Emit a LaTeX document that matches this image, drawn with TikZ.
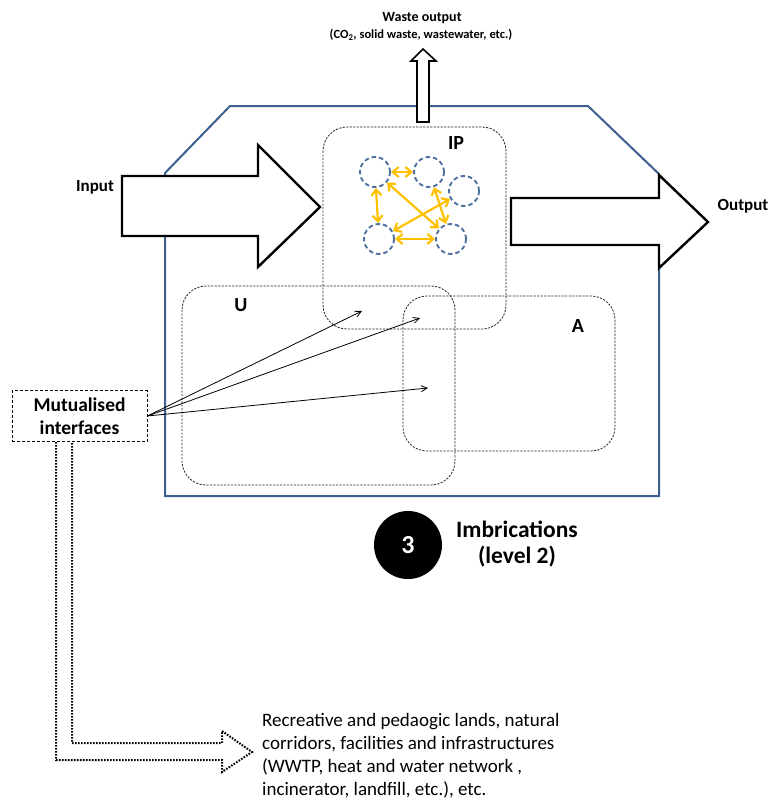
\documentclass[tikz,border=0pt]{standalone}
\usepackage{fontspec}
\setmainfont{Carlito}
\usetikzlibrary{arrows.meta}
\definecolor{frameblue}{HTML}{3B6090}
\definecolor{circblue}{HTML}{4F71A0}
\definecolor{gold}{HTML}{FFC000}
\begin{document}
\begin{tikzpicture}[x=1pt,y=-1pt,
  frame/.style={draw=frameblue, line width=2pt, line join=miter},
  grp/.style={draw=black!85, dash pattern=on 2.2pt off 1.3pt, line width=0.8pt, rounded corners=24pt},
  bigarrow/.style={draw, fill=white, line width=2.4pt, line join=miter},
  agent/.style={circle, draw=circblue, dash pattern=on 4.5pt off 3pt, line width=1.9pt, minimum size=30pt, inner sep=0pt},
  link/.style={draw=gold, line width=2.2pt, {Straight Barb[length=6pt,width=10pt]}-{Straight Barb[length=6pt,width=10pt]}},
  thinarrow/.style={draw, line width=0.8pt, -{Straight Barb[length=6pt,width=6pt]}},
  lbl/.style={font=\bfseries\fontsize{17}{19}\selectfont, inner sep=0pt},
  biglbl/.style={font=\bfseries\fontsize{20}{22}\selectfont, inner sep=0pt}
]
\useasboundingbox (0,0) rectangle (772,803);

% outer frame
\draw[frame] (230,106) -- (588,106) -- (659,174) -- (659,496) -- (165,496) -- (165,173) -- cycle;

% groups
\draw[grp] (323,127) rectangle (506,329);
\draw[grp] (182,286) rectangle (455,485);
\draw[grp] (403,296) rectangle (615,451);

% labels of groups
\node[biglbl] (ip) at (456,143) {IP};
\node[biglbl] (u) at (241,305) {U};
\node[biglbl] (a) at (578,326) {A};

% agents
\node[agent] (c1) at (375,172) {};
\node[agent] (c2) at (429,172) {};
\node[agent] (c3) at (464,191) {};
\node[agent] (c4) at (379,239) {};
\node[agent] (c5) at (451,239) {};
\draw[link] (c1) -- (c2);
\draw[link] (c1) -- (c4);
\draw[link] (c1) -- (c5);
\draw[link] (c2) -- (c5);
\draw[link] (c3) -- (c4);
\draw[link] (c4) -- (c5);

% input arrow
\draw[bigarrow] (122,176) -- (258,176) -- (258,145) -- (320,207) -- (258,267) -- (258,236) -- (122,236) -- cycle;
\node[lbl] (input) at (95,187) {Input};

% output arrow
\draw[bigarrow] (511,198) -- (659,198) -- (659,175) -- (708,222) -- (659,268) -- (659,245) -- (511,245) -- cycle;
\node[lbl] (output) at (743,206) {Output};

% waste arrow
\draw[draw, fill=white, line width=1.6pt, line join=miter] (417,122) -- (417,61) -- (411,61) -- (423,49) -- (436,61) -- (429,61) -- (429,122) -- cycle;
\node[font=\bfseries\fontsize{14}{16}\selectfont, inner sep=0pt] (waste) at (422,18) {Waste output};
\node[font=\bfseries\fontsize{12.5}{14}\selectfont, inner sep=0pt] (wastesub) at (421,35) {(CO\textsubscript{2}, solid waste, wastewater, etc.)};

% mutualised interfaces
\node[draw, dash pattern=on 3pt off 2pt, line width=0.8pt, minimum width=135pt, minimum height=51pt, align=center, inner sep=0pt,
  font=\bfseries\fontsize{19.5}{23}\selectfont] (mut) at (79.5,416) {Mutualised\\interfaces};
\coordinate (t1) at (362,311);
\coordinate (t2) at (420,318);
\coordinate (t3) at (428,388);
\draw[thinarrow] (mut.east) -- (t1);
\draw[thinarrow] (mut.east) -- (t2);
\draw[thinarrow] (mut.east) -- (t3);

% description
\node[anchor=north west, align=left, inner sep=0pt, font=\fontsize{19}{23}\selectfont] (desc) at (262,713)
 {Recreative and pedaogic lands, natural\\corridors, facilities and infrastructures\\(WWTP, heat and water network ,\\incinerator, landfill, etc.), etc.};

% dotted hollow bent arrow
\draw[line width=2pt, dash pattern=on 1.6pt off 1.4pt, line join=miter]
  (56,442) -- (56,760) -- (222,760) -- (222,772) -- (252,752) -- (222,731) -- (222,743) -- (72,743) -- (72,442);

% level circle
\node[circle, fill=black, minimum size=68pt, inner sep=0pt, text=white, font=\bfseries\fontsize{26}{28}\selectfont] (lvl) at (408,545) {3};
\node[align=center, inner sep=0pt, font=\bfseries\fontsize{23.5}{26}\selectfont] (imb) at (517,544) {Imbrications\\(level 2)};
\end{tikzpicture}
\end{document}
